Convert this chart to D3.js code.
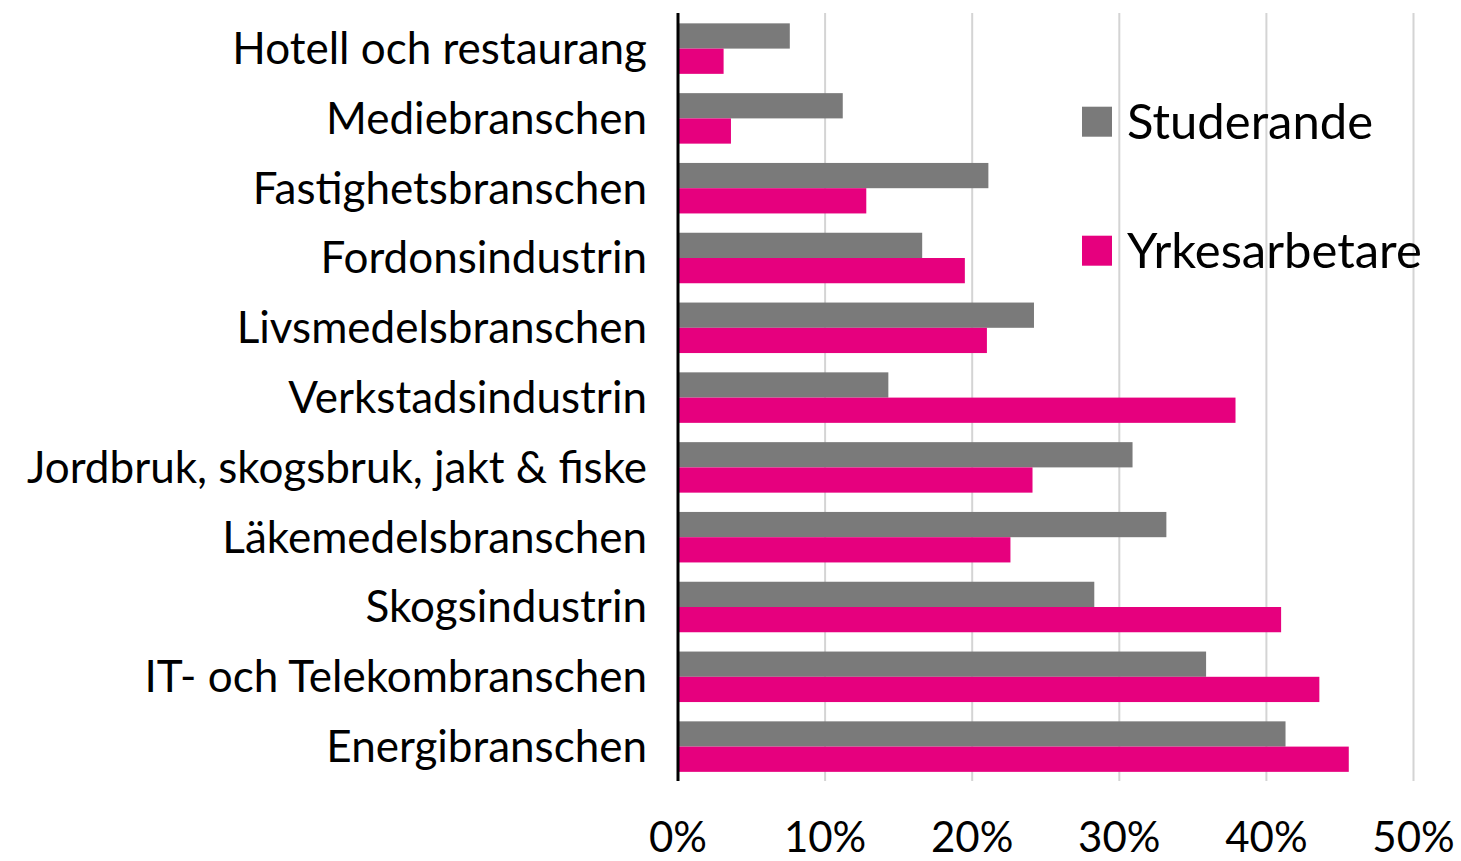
<!DOCTYPE html>
<html>
<head>
<meta charset="utf-8">
<script src="https://cdn.jsdelivr.net/npm/d3@7"></script>
<style>
  body { margin: 0; background: #fff; }
  text { font-family: Lato, "Open Sans", sans-serif; fill: #000; }
</style>
</head>
<body>
<script>
// categories top to bottom, values as fractions
var categories = ['Hotell och restaurang', 'Mediebranschen', 'Fastighetsbranschen', 'Fordonsindustrin',
  'Livsmedelsbranschen', 'Verkstadsindustrin', 'Jordbruk, skogsbruk, jakt & fiske', 'Läkemedelsbranschen',
  'Skogsindustrin', 'IT- och Telekombranschen', 'Energibranschen'];
var studerande = [0.076, 0.112, 0.211, 0.166, 0.242, 0.143, 0.309, 0.332, 0.283, 0.359, 0.413];
var yrkesarbetare = [0.031, 0.036, 0.128, 0.195, 0.210, 0.379, 0.241, 0.226, 0.410, 0.436, 0.456];
var series_names = ['Studerande', 'Yrkesarbetare'];
var colors = ['#7a7a7a', '#e6007e'];
var tick_values = [0, 0.1, 0.2, 0.3, 0.4, 0.5];

var width = 1461, height = 861;
var svg = d3.select('body').append('svg').attr('width', width).attr('height', height);

var x_scale = d3.scaleLinear().domain([0, 0.5]).range([678, 1413.5]);
var pad = 19.3 / 69.8;
var y_scale = d3.scaleBand().domain(categories).range([13.7, 781.5]).paddingInner(pad).paddingOuter(pad / 2);
var sub_scale = d3.scaleBand().domain(series_names).range([0, y_scale.bandwidth()]);

// gridlines
svg.append('g').selectAll('line').data(tick_values.slice(1)).enter().append('line')
  .attr('x1', d => x_scale(d)).attr('x2', d => x_scale(d))
  .attr('y1', 13).attr('y2', 781)
  .attr('stroke', '#d4d4d4').attr('stroke-width', 2);

// build rows
var rows = categories.map(function(c, i) {
  return {name: c, values: [studerande[i], yrkesarbetare[i]]};
});

var groups = svg.append('g').selectAll('g').data(rows).enter().append('g')
  .attr('transform', d => 'translate(0,' + y_scale(d.name) + ')');

groups.selectAll('rect').data(d => d.values.map((v, i) => ({key: series_names[i], value: v, i: i})))
  .enter().append('rect')
  .attr('x', x_scale(0))
  .attr('y', d => sub_scale(d.key))
  .attr('width', d => x_scale(d.value) - x_scale(0))
  .attr('height', sub_scale.bandwidth())
  .attr('fill', d => colors[d.i]);

// category labels
svg.append('g').selectAll('text').data(categories).enter().append('text')
  .attr('x', 647)
  .attr('y', d => y_scale(d) + y_scale.bandwidth() / 2)
  .attr('dy', '0.35em')
  .attr('text-anchor', 'end')
  .style('font-size', '44px')
  .text(d => d);

// vertical axis line
svg.append('line')
  .attr('x1', x_scale(0)).attr('x2', x_scale(0))
  .attr('y1', 13).attr('y2', 781)
  .attr('stroke', '#000').attr('stroke-width', 3);

// x tick labels
svg.append('g').selectAll('text').data(tick_values).enter().append('text')
  .attr('x', d => x_scale(d))
  .attr('y', 852)
  .attr('text-anchor', 'middle')
  .style('font-size', '42px')
  .text(d3.format('.0%'));

// legend
var legend = svg.append('g').selectAll('g').data(series_names).enter().append('g')
  .attr('transform', (d, i) => 'translate(1082,' + (106.7 + i * 129) + ')');
legend.append('rect').attr('width', 30).attr('height', 30).attr('fill', (d, i) => colors[i]);
legend.append('text').attr('x', 45).attr('y', 15).attr('dy', '0.36em')
  .style('font-size', '49px').text(d => d);
</script>
</body>
</html>
